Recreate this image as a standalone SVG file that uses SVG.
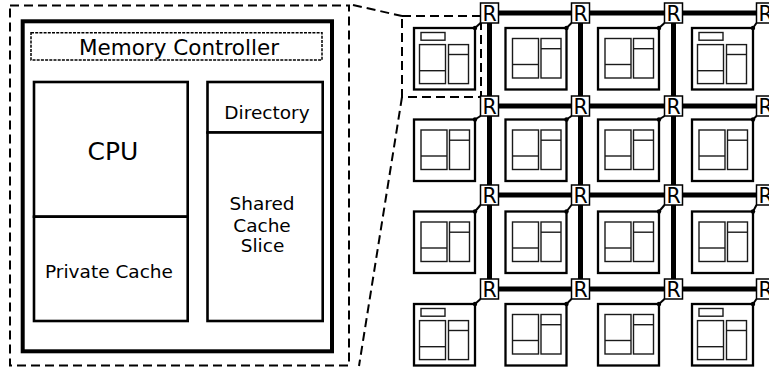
<svg xmlns="http://www.w3.org/2000/svg" xmlns:xlink="http://www.w3.org/1999/xlink" width="769" height="368" viewBox="0 0 769 368">
<style>
.txt{font-family:"DejaVu Sans","Liberation Sans",sans-serif;fill:#000;text-anchor:middle}
.box{fill:#fff;stroke:#000;stroke-width:2.6}
.dash{fill:none;stroke:#000;stroke-width:2;stroke-dasharray:9,5}
.tile{fill:#fff;stroke:#000;stroke-width:2.3}
.in{fill:none;stroke:#1a1a1a;stroke-width:1.4}
.link{stroke:#000;stroke-width:5;fill:none}
.rbox{fill:#fff;stroke:#000;stroke-width:1.5}
.rt{font-family:"DejaVu Sans","Liberation Sans",sans-serif;font-size:20.5px;text-anchor:middle;fill:#000}
.conn{stroke:#000;stroke-width:2}
</style>
<defs>
<g id="tileN">
<rect x="0" y="0" width="61" height="61.5" class="tile"/>
<rect x="7" y="10.5" width="26" height="39.5" class="in"/>
<line x1="7" y1="36.5" x2="33" y2="36.5" class="in"/>
<rect x="35.5" y="10.5" width="20" height="39.5" class="in"/>
<line x1="35.5" y1="20.7" x2="55.5" y2="20.7" class="in"/>
</g>
<g id="tileMC">
<rect x="0" y="0" width="61" height="61.5" class="tile"/>
<rect x="7" y="4.5" width="24" height="7.7" class="in"/>
<rect x="5.5" y="16.6" width="26" height="39" class="in"/>
<line x1="5.5" y1="42.7" x2="31.5" y2="42.7" class="in"/>
<rect x="34.5" y="16.6" width="20" height="39" class="in"/>
<line x1="34.5" y1="26.5" x2="54.5" y2="26.5" class="in"/>
</g>
</defs>

<g id="detail">
<rect x="10" y="5.5" width="339" height="360" class="dash"/>
<rect x="22.7" y="21.3" width="309.3" height="330" fill="#fff" stroke="#000" stroke-width="4"/>
<g id="memctrl">
<rect x="31" y="32.7" width="291" height="27.3" fill="none" stroke="#000" stroke-width="1.5" stroke-dasharray="3,1.2"/>
<text class="txt" x="179" y="55" font-size="21.5">Memory Controller</text>
</g>
<g id="cpu">
<rect x="34" y="82" width="153.7" height="134.7" class="box"/>
<text class="txt" x="113" y="160" font-size="25">CPU</text>
</g>
<g id="privcache">
<rect x="34" y="216.7" width="153.7" height="104.3" class="box"/>
<text class="txt" x="109" y="277.7" font-size="18.5">Private Cache</text>
</g>
<g id="directory">
<rect x="207.5" y="82" width="115.2" height="50.5" class="box"/>
<text class="txt" x="267" y="119" font-size="18.5">Directory</text>
</g>
<g id="sharedcache">
<rect x="207.5" y="132.5" width="115.2" height="188.5" class="box"/>
<text class="txt" x="262" y="210" font-size="18.5">Shared</text>
<text class="txt" x="262" y="231.7" font-size="18.5">Cache</text>
<text class="txt" x="262.5" y="251.7" font-size="18.5">Slice</text>
</g>
</g>

<g id="connectors">
<line x1="353" y1="5" x2="402" y2="16" class="dash" stroke-width="2.2"/>
<line x1="402" y1="97" x2="359" y2="366" class="dash" stroke-width="2.2"/>
<rect x="402" y="16" width="79" height="81" class="dash"/>
<line x1="489.5" y1="13" x2="769" y2="13" class="link"/>
<line x1="489.5" y1="106" x2="769" y2="106" class="link"/>
<line x1="489.5" y1="195" x2="769" y2="195" class="link"/>
<line x1="489.5" y1="289" x2="769" y2="289" class="link"/>
<line x1="489.5" y1="13" x2="489.5" y2="289" class="link"/>
<line x1="580.5" y1="13" x2="580.5" y2="289" class="link"/>
<line x1="673.5" y1="13" x2="673.5" y2="289" class="link"/>
<g class="conn">
<line x1="475" y1="28" x2="480.5" y2="23"/><line x1="566.5" y1="28" x2="571.5" y2="23"/><line x1="659" y1="28" x2="664.5" y2="23"/><line x1="753" y1="28" x2="756.5" y2="23"/>
<line x1="475" y1="119.5" x2="480.5" y2="116"/><line x1="566.5" y1="119.5" x2="571.5" y2="116"/><line x1="659" y1="119.5" x2="664.5" y2="116"/><line x1="753" y1="119.5" x2="756.5" y2="116"/>
<line x1="475" y1="211.5" x2="480.5" y2="205"/><line x1="566.5" y1="211.5" x2="571.5" y2="205"/><line x1="659" y1="211.5" x2="664.5" y2="205"/><line x1="753" y1="211.5" x2="756.5" y2="205"/>
<line x1="475" y1="304" x2="480.5" y2="299"/><line x1="566.5" y1="304" x2="571.5" y2="299"/><line x1="659" y1="304" x2="664.5" y2="299"/><line x1="753" y1="304" x2="756.5" y2="299"/>
</g>
</g>

<g id="tiles">
<g id="t00"><use xlink:href="#tileMC" x="414" y="28"/></g>
<g id="t01"><use xlink:href="#tileN" x="505.5" y="28"/></g>
<g id="t02"><use xlink:href="#tileN" x="598" y="28"/></g>
<g id="t03"><use xlink:href="#tileMC" x="692" y="28"/></g>
<g id="t10"><use xlink:href="#tileN" x="414" y="119.5"/></g>
<g id="t11"><use xlink:href="#tileN" x="505.5" y="119.5"/></g>
<g id="t12"><use xlink:href="#tileN" x="598" y="119.5"/></g>
<g id="t13"><use xlink:href="#tileN" x="692" y="119.5"/></g>
<g id="t20"><use xlink:href="#tileN" x="414" y="211.5"/></g>
<g id="t21"><use xlink:href="#tileN" x="505.5" y="211.5"/></g>
<g id="t22"><use xlink:href="#tileN" x="598" y="211.5"/></g>
<g id="t23"><use xlink:href="#tileN" x="692" y="211.5"/></g>
<g id="t30"><use xlink:href="#tileMC" x="414" y="304"/></g>
<g id="t31"><use xlink:href="#tileN" x="505.5" y="304"/></g>
<g id="t32"><use xlink:href="#tileN" x="598" y="304"/></g>
<g id="t33"><use xlink:href="#tileMC" x="692" y="304"/></g>
</g>

<g id="dots" fill="#000">
<circle cx="475" cy="28" r="2.2"/><circle cx="566.5" cy="28" r="2.2"/><circle cx="659" cy="28" r="2.2"/><circle cx="753" cy="28" r="2.2"/>
<circle cx="475" cy="119.5" r="2.2"/><circle cx="566.5" cy="119.5" r="2.2"/><circle cx="659" cy="119.5" r="2.2"/><circle cx="753" cy="119.5" r="2.2"/>
<circle cx="475" cy="211.5" r="2.2"/><circle cx="566.5" cy="211.5" r="2.2"/><circle cx="659" cy="211.5" r="2.2"/><circle cx="753" cy="211.5" r="2.2"/>
<circle cx="475" cy="304" r="2.2"/><circle cx="566.5" cy="304" r="2.2"/><circle cx="659" cy="304" r="2.2"/><circle cx="753" cy="304" r="2.2"/>
</g>

<g id="routers">
<g id="r00"><rect x="480.5" y="3" width="18" height="20" class="rbox"/><text class="rt" x="489.5" y="20.5">R</text></g>
<g id="r01"><rect x="571.5" y="3" width="18" height="20" class="rbox"/><text class="rt" x="580.5" y="20.5">R</text></g>
<g id="r02"><rect x="664.5" y="3" width="18" height="20" class="rbox"/><text class="rt" x="673.5" y="20.5">R</text></g>
<g id="r03"><rect x="756.5" y="3" width="18" height="20" class="rbox"/><text class="rt" x="765.5" y="20.5">R</text></g>
<g id="r10"><rect x="480.5" y="96" width="18" height="20" class="rbox"/><text class="rt" x="489.5" y="113.5">R</text></g>
<g id="r11"><rect x="571.5" y="96" width="18" height="20" class="rbox"/><text class="rt" x="580.5" y="113.5">R</text></g>
<g id="r12"><rect x="664.5" y="96" width="18" height="20" class="rbox"/><text class="rt" x="673.5" y="113.5">R</text></g>
<g id="r13"><rect x="756.5" y="96" width="18" height="20" class="rbox"/><text class="rt" x="765.5" y="113.5">R</text></g>
<g id="r20"><rect x="480.5" y="185" width="18" height="20" class="rbox"/><text class="rt" x="489.5" y="202.5">R</text></g>
<g id="r21"><rect x="571.5" y="185" width="18" height="20" class="rbox"/><text class="rt" x="580.5" y="202.5">R</text></g>
<g id="r22"><rect x="664.5" y="185" width="18" height="20" class="rbox"/><text class="rt" x="673.5" y="202.5">R</text></g>
<g id="r23"><rect x="756.5" y="185" width="18" height="20" class="rbox"/><text class="rt" x="765.5" y="202.5">R</text></g>
<g id="r30"><rect x="480.5" y="279" width="18" height="20" class="rbox"/><text class="rt" x="489.5" y="296.5">R</text></g>
<g id="r31"><rect x="571.5" y="279" width="18" height="20" class="rbox"/><text class="rt" x="580.5" y="296.5">R</text></g>
<g id="r32"><rect x="664.5" y="279" width="18" height="20" class="rbox"/><text class="rt" x="673.5" y="296.5">R</text></g>
<g id="r33"><rect x="756.5" y="279" width="18" height="20" class="rbox"/><text class="rt" x="765.5" y="296.5">R</text></g>
</g>
</svg>
